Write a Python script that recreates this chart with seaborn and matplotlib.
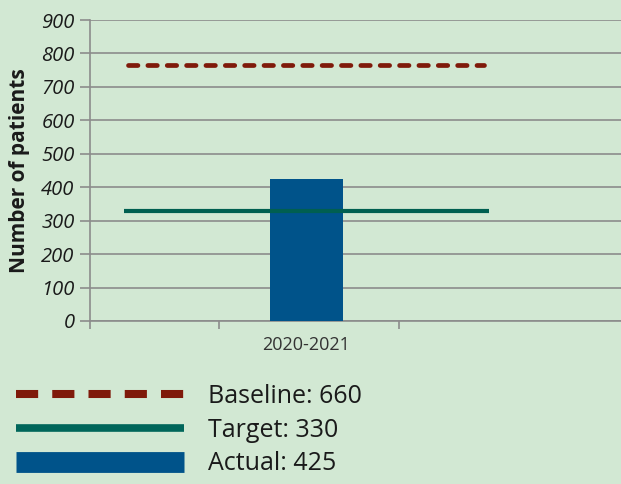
"""
Patients chart: actual vs baseline and target (single period)
"""

import matplotlib
matplotlib.use("Agg")
import matplotlib.pyplot as plt
from matplotlib.lines import Line2D
import seaborn as sns
import warnings
warnings.filterwarnings("ignore")

# ── Data ───────────────────────────────────────────────────────────────────
categories    = ["2020-2021"]
actual        = [425]
baseline      = [765]
target        = [330]
legend_labels = ["Baseline: 660", "Target: 330", "Actual: 425"]
y_ticks       = [0, 100, 200, 300, 400, 500, 600, 700, 800, 900]

# ── Palette ────────────────────────────────────────────────────────────────
C_BG     = "#d2e8d3"
C_BAR    = "#00538a"
C_BASE   = "#7f1a0a"
C_TARGET = "#005f50"
C_GRID   = "#8c8c8c"
C_TEXT   = "#1a1a1a"
FONT     = ["Open Sans", "DejaVu Sans"]

sns.set_style("white")
plt.rcParams["font.family"] = FONT

fig = plt.figure(figsize=(6.21, 4.84), dpi=100)
fig.patch.set_facecolor(C_BG)
ax = fig.add_axes([90 / 621, 1 - 321 / 484, 531 / 621, 301 / 484])
ax.set_facecolor(C_BG)

# bar
sns.barplot(x=categories, y=actual, color=C_BAR, width=0.8, saturation=1,
            linewidth=0, edgecolor=C_BAR, ax=ax, zorder=3)

# reference lines span two category widths either side of the bar
SPAN = 2.0
ax.hlines(baseline, -SPAN + 0.05, SPAN - 0.05, colors=C_BASE, linewidth=3.4,
          linestyles=(0, (2.0, 2.1)), capstyle="round", zorder=4)
ax.hlines(target, -SPAN, SPAN, colors=C_TARGET, linewidth=3.0, zorder=4)

# ── Axes styling ───────────────────────────────────────────────────────────
ax.set_xlim(-2.37, 3.45)
ax.set_ylim(0, 900)
ax.set_yticks(y_ticks)
ax.set_yticklabels([str(v) for v in y_ticks], fontstyle="italic",
                   fontsize=14.5, color=C_TEXT)
ax.yaxis.grid(True, color=C_GRID, linewidth=1.2)
ax.set_axisbelow(True)

ax.set_xticks([0])
ax.set_xticklabels(categories, fontsize=13, color="#333333",
                   family=["Liberation Sans Narrow", "Open Sans"])
ax.set_xticks([-2.37, -0.956, 1.017], minor=True)
ax.tick_params(axis="x", which="both", bottom=True)
ax.tick_params(axis="x", which="major", length=0, pad=11)
ax.tick_params(axis="x", which="minor", length=6, width=1.2, color=C_GRID)
ax.tick_params(axis="y", left=True, length=7, width=1.2, color=C_GRID, pad=4)

for s in ["top", "right"]:
    ax.spines[s].set_visible(False)
for s in ["left", "bottom"]:
    ax.spines[s].set_color(C_GRID)
    ax.spines[s].set_linewidth(1.2)

ax.set_ylabel("Number of patients", fontsize=15, fontweight="bold",
              color=C_TEXT, labelpad=8)
ax.set_xlabel("")

# ── Legend ─────────────────────────────────────────────────────────────────
handles = [
    Line2D([], [], color=C_BASE, linewidth=5.8, linestyle=(0, (2.75, 1.75)),
           dash_capstyle="butt"),
    Line2D([], [], color="#00665a", linewidth=5.5, solid_capstyle="butt"),
    Line2D([], [], color=C_BAR, linewidth=15, solid_capstyle="butt"),
]
fig.legend(handles, legend_labels, loc="upper left",
           bbox_to_anchor=(16 / 621, 1 - 384 / 484), frameon=False,
           fontsize=18, handlelength=6.7, handletextpad=1.0,
           labelspacing=0.35, borderpad=0, borderaxespad=0,
           labelcolor=C_TEXT)

fig.savefig("out.png", dpi=100, facecolor=C_BG)
